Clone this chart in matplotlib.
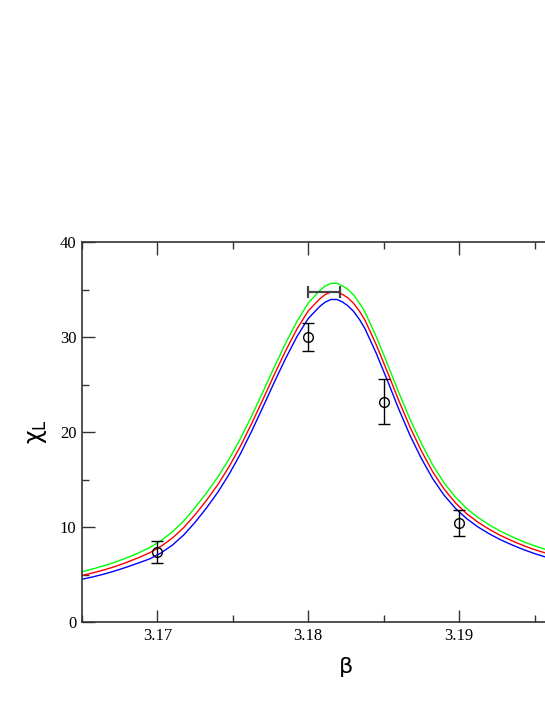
import numpy as np
import matplotlib
matplotlib.use('Agg')
import matplotlib.pyplot as plt
from matplotlib.ticker import MultipleLocator

# reweighted curves
beta_c = [3.16500, 3.16575, 3.16650, 3.16725, 3.16800, 3.16875, 3.16950, 3.17025,
          3.17100, 3.17175, 3.17250, 3.17325, 3.17400, 3.17475, 3.17550, 3.17625,
          3.17700, 3.17775, 3.17850, 3.17925, 3.18000, 3.18075, 3.18110, 3.18150,
          3.18190, 3.18225, 3.18260, 3.18300, 3.18340, 3.18375, 3.18450, 3.18525,
          3.18600, 3.18675, 3.18750, 3.18825, 3.18900, 3.18975, 3.19050, 3.19125,
          3.19200, 3.19275, 3.19350, 3.19425, 3.19500, 3.19575, 3.19650]
chi_red = [4.9, 5.18, 5.5, 5.87, 6.3, 6.77, 7.3, 7.98,
           8.85, 9.95, 11.3, 12.8, 14.45, 16.35, 18.5, 20.9,
           23.45, 26.05, 28.55, 30.85, 32.75, 34.0, 34.45, 34.75,
           34.75, 34.5, 34.15, 33.55, 32.7, 31.8, 29.2, 26.3,
           23.3, 20.5, 18.0, 15.8, 14.0, 12.55, 11.4, 10.5,
           9.75, 9.1, 8.55, 8.05, 7.62, 7.25, 6.92]
chi_green = [5.3, 5.6, 5.94, 6.33, 6.78, 7.27, 7.85, 8.58,
             9.5, 10.65, 12.05, 13.58, 15.25, 17.15, 19.3, 21.7,
             24.25, 26.85, 29.35, 31.65, 33.57, 34.88, 35.35, 35.65,
             35.65, 35.4, 35.05, 34.43, 33.57, 32.65, 30.05, 27.15,
             24.15, 21.32, 18.78, 16.52, 14.65, 13.15, 11.95, 11.0,
             10.22, 9.55, 8.98, 8.46, 8.02, 7.63, 7.29]
chi_blue = [4.5, 4.76, 5.06, 5.41, 5.8, 6.22, 6.65, 7.28,
            8.1, 9.17, 10.5, 12.0, 13.65, 15.55, 17.7, 20.1,
            22.65, 25.25, 27.75, 30.05, 31.95, 33.2, 33.65, 33.95,
            33.95, 33.7, 33.32, 32.7, 31.83, 30.9, 28.3, 25.4,
            22.4, 19.62, 17.2, 15.08, 13.35, 11.97, 10.88, 10.0,
            9.28, 8.65, 8.12, 7.63, 7.2, 6.83, 6.5]

# simulation points
beta_pts = [3.17, 3.18, 3.185, 3.19]
chi_pts = [7.4, 30.0, 23.2, 10.4]
chi_err = [1.15, 1.5, 2.4, 1.35]

# peak position with error
beta_peak = 3.18105
beta_peak_err = 0.00105
chi_peak = 34.7

fig = plt.figure(figsize=(5.45, 7.05), dpi=100)
ax = fig.add_axes([82/545, 83/705, 528/545, 380/705])

for y, c in [(chi_green, '#00ff00'), (chi_red, '#ff0000'), (chi_blue, '#0000ff')]:
    ax.plot(beta_c, y, '-', color=c, lw=1.0, solid_joinstyle='round')

ax.errorbar(beta_pts, chi_pts, yerr=chi_err, fmt='o', mfc='none', mec='black',
            ms=7, mew=1.0, ecolor='black', elinewidth=1.0, capsize=4, capthick=1.0)
ax.errorbar([beta_peak], [chi_peak], xerr=[beta_peak_err], fmt='none',
            ecolor='#444444', elinewidth=1.6, capsize=4, capthick=1.6)

ax.set_xlim(3.165, 3.2)
ax.set_ylim(0, 40)
ax.xaxis.set_minor_locator(MultipleLocator(0.005))
ax.yaxis.set_major_locator(MultipleLocator(10))
ax.yaxis.set_minor_locator(MultipleLocator(5))
ax.set_xticks([3.17, 3.18, 3.19])
ax.set_xticklabels(['3.17', '3.18', '3.19'])
ax.tick_params(which='both', direction='in', top=True, right=True, colors='#333333',
               labelcolor='black')
ax.tick_params(which='major', length=9, width=1.0, labelsize=12, pad=4)
ax.tick_params(which='minor', length=5, width=1.0)
for lab in ax.get_xticklabels() + ax.get_yticklabels():
    lab.set_fontfamily('Liberation Serif')
for s in ax.spines.values():
    s.set_color('#333333')
    s.set_linewidth(1.2)

ax.set_xlabel('β', fontsize=16, labelpad=10)
ax.set_ylabel(r'χ$_{\mathrm{L}}$', fontsize=17, labelpad=8)

fig.savefig('out.png', dpi=100)
